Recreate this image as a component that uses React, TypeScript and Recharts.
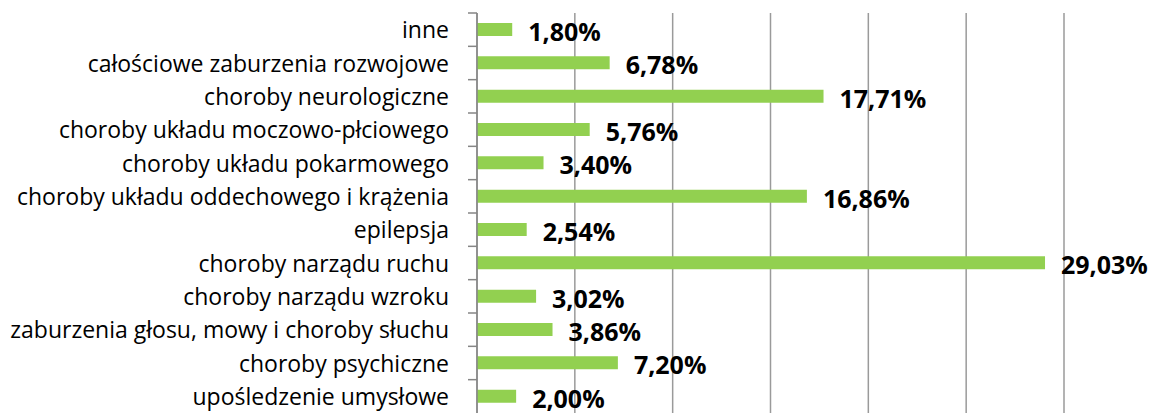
import { BarChart, Bar, XAxis, YAxis, CartesianGrid, LabelList } from 'recharts'

const categories = [
  'inne',
  'całościowe zaburzenia rozwojowe',
  'choroby neurologiczne',
  'choroby układu moczowo-płciowego',
  'choroby układu pokarmowego',
  'choroby układu oddechowego i krążenia',
  'epilepsja',
  'choroby narządu ruchu',
  'choroby narządu wzroku',
  'zaburzenia głosu, mowy i choroby słuchu',
  'choroby psychiczne',
  'upośledzenie umysłowe',
]

const shares = [1.8, 6.78, 17.71, 5.76, 3.4, 16.86, 2.54, 29.03, 3.02, 3.86, 7.2, 2.0]

const xTicks = [0, 5, 10, 15, 20, 25, 30]

const FONT = '"Open Sans", sans-serif'
const BAND = 400 / categories.length

const data = categories.map((name, i) => ({ name, value: shares[i] }))

const fmt = (v: number) => v.toFixed(2).replace('.', ',') + '%'

// category label + tick mark placed between categories, like Excel
const CategoryTick = (props: any) => {
  const { x, y, payload } = props
  const axisX = x + 8
  return (
    <g>
      <line x1={axisX - 9} x2={axisX} y1={y - BAND / 2} y2={y - BAND / 2} stroke="#868686" strokeWidth={1.5} />
      <text x={axisX - 28} y={y + 8.5} textAnchor="end" fontFamily={FONT} fontSize={23} fill="#000">
        {payload.value}
      </text>
    </g>
  )
}

const ValueLabel = (props: any) => {
  const { x, y, width, height, value } = props
  return (
    <text
      x={x + width + 16}
      y={y + height / 2 + 11.5}
      fontFamily={FONT}
      fontWeight="bold"
      fontSize={25}
      fill="#000"
    >
      {fmt(value)}
    </text>
  )
}

export default function App() {
  return (
    <div style={{ position: 'absolute', top: 0, left: 0, background: '#fff' }}>
      <BarChart
        width={1157}
        height={420}
        data={data}
        layout="vertical"
        margin={{ top: 13, right: 93, left: 0, bottom: 7 }}
        barSize={13}
      >
        <CartesianGrid horizontal={false} stroke="#9a9a9a" strokeWidth={1.5} />
        <XAxis type="number" domain={[0, 30]} ticks={xTicks} hide />
        <YAxis
          type="category"
          dataKey="name"
          width={477}
          interval={0}
          axisLine={{ stroke: '#868686', strokeWidth: 1.5 }}
          tickLine={false}
          tick={<CategoryTick />}
        />
        <Bar dataKey="value" fill="#92d050" isAnimationActive={false}>
          <LabelList dataKey="value" content={<ValueLabel />} />
        </Bar>
      </BarChart>
    </div>
  )
}
